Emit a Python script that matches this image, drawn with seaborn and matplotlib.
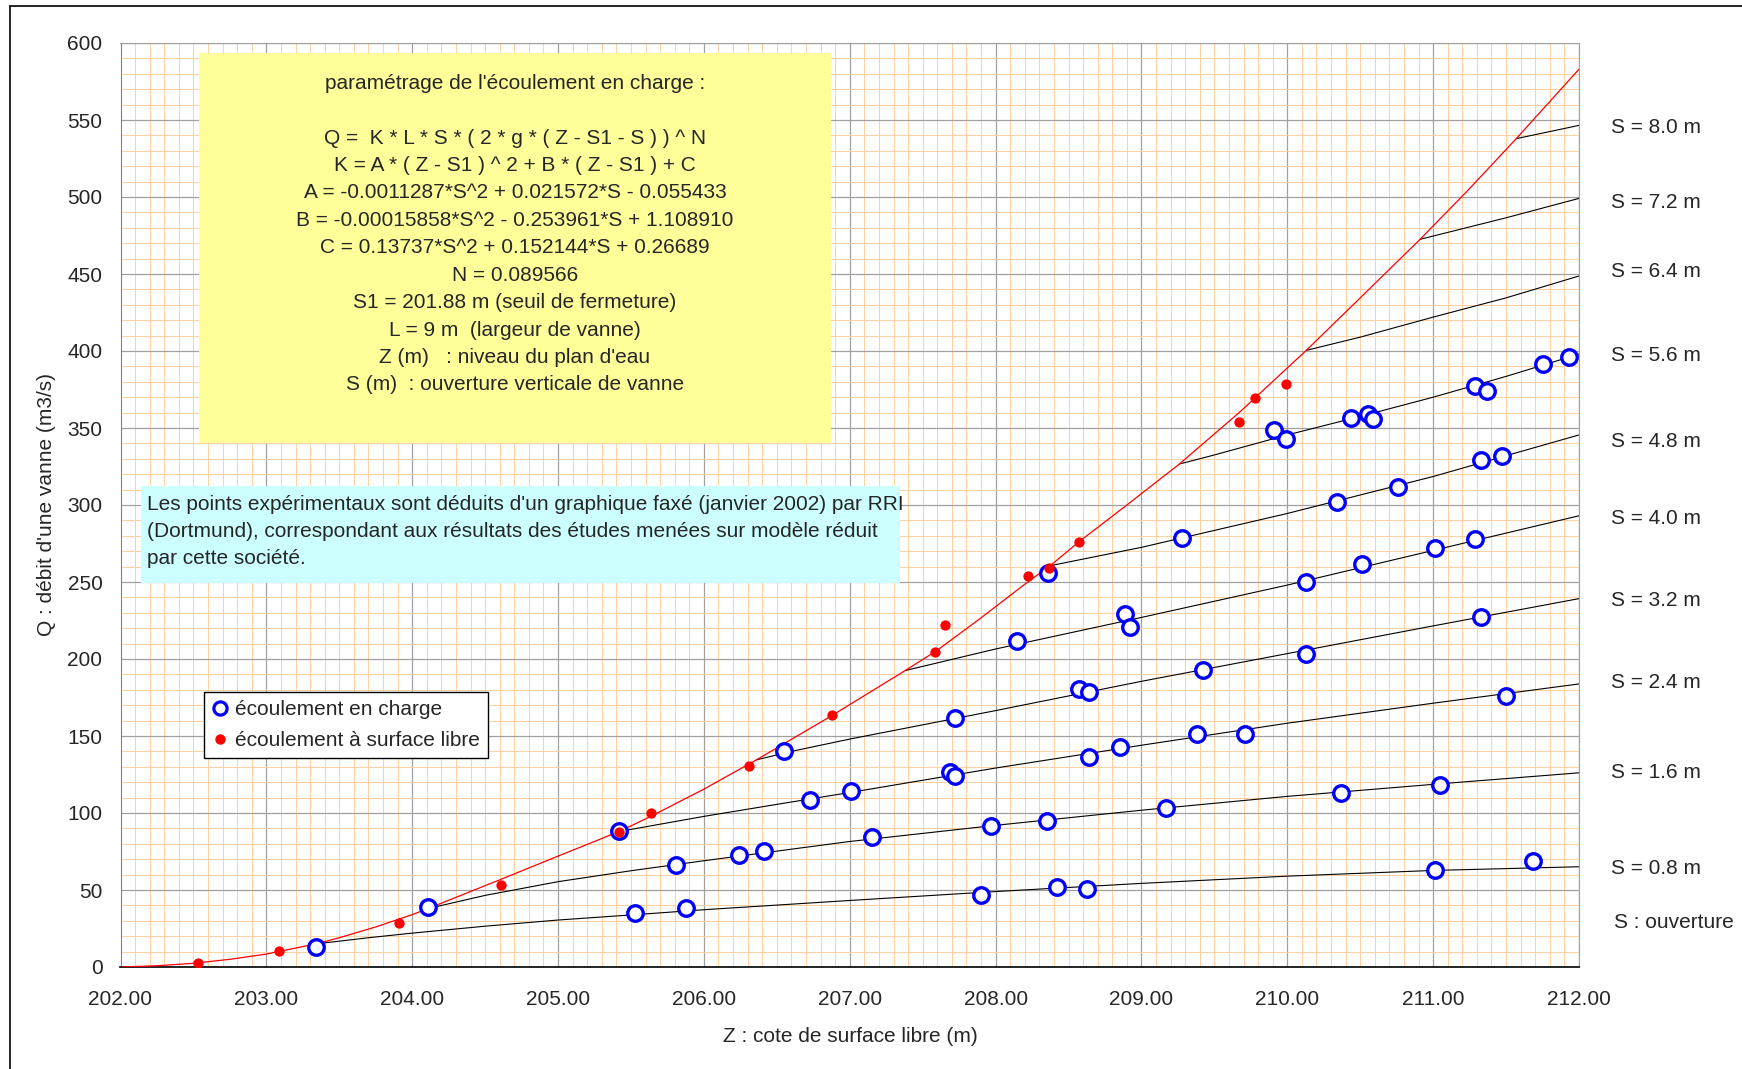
import numpy as np
import pandas as pd
import seaborn as sns
import matplotlib.pyplot as plt
from matplotlib.lines import Line2D
from matplotlib.patches import Rectangle
from matplotlib.ticker import FormatStrFormatter

# Free-surface limit curve (red line)
curve_z = [202.00, 202.25, 202.50, 202.75, 203.00, 203.34, 203.50, 203.75, 204.00, 204.11,
           204.61, 205.00, 205.42, 205.64, 206.00, 206.36, 206.88, 207.38, 207.59, 207.89,
           208.22, 208.38, 208.57, 208.90, 209.26, 209.67, 210.00, 210.13, 210.50, 210.91,
           211.23, 211.57, 212.00]
curve_q = [0.0, 0.8, 2.4, 5.0, 8.4, 15.0, 19.0, 26.0, 34.0, 38.0,
           57.0, 72.0, 88.0, 98.0, 115.5, 134.5, 163.4, 192.5, 205.0, 226.0,
           250.0, 261.0, 276.0, 300.0, 326.6, 360.0, 389.0, 400.4, 434.5, 472.5,
           503.5, 537.9, 583.0]

# Pressure-flow lines, one per gate opening S
s08_z = [203.34, 203.7, 204.0, 204.5, 205.0, 205.53, 206.0, 207.0, 208.0, 209.0, 210.0, 211.0, 212.0]
s08_q = [15.0, 19.0, 22.0, 26.5, 30.5, 34.0, 37.2, 43.2, 49.0, 54.3, 59.0, 62.7, 65.1]
s16_z = [204.11, 204.5, 205.0, 205.5, 206.0, 207.0, 208.0, 209.0, 210.0, 211.0, 212.0]
s16_q = [38.0, 46.5, 55.4, 62.5, 69.0, 81.5, 92.0, 101.8, 110.8, 118.6, 126.1]
s24_z = [205.42, 206.0, 206.5, 207.0, 208.0, 209.0, 210.0, 211.0, 212.0]
s24_q = [88.0, 97.8, 105.6, 113.3, 129.2, 144.0, 158.3, 171.3, 183.8]
s32_z = [206.36, 206.6, 207.0, 208.0, 209.0, 210.0, 211.0, 212.0]
s32_q = [134.5, 140.0, 148.0, 166.5, 185.5, 203.5, 221.5, 239.2]
s40_z = [207.38, 208.0, 209.0, 210.0, 211.0, 212.0]
s40_q = [192.5, 206.5, 227.0, 248.0, 270.5, 293.0]
s48_z = [208.37, 209.0, 210.0, 211.0, 212.0]
s48_q = [260.5, 272.5, 294.5, 318.5, 345.5]
s56_z = [209.26, 209.5, 210.0, 210.5, 211.0, 211.5, 212.0]
s56_q = [326.6, 332.5, 345.5, 357.5, 370.0, 383.5, 398.0]
s64_z = [210.13, 210.5, 211.0, 211.5, 212.0]
s64_q = [400.4, 409.0, 422.0, 434.5, 448.7]
s72_z = [210.91, 211.5, 212.0]
s72_q = [472.5, 486.5, 499.1]
s80_z = [211.57, 212.0]
s80_q = [537.9, 546.5]

openings = [0.8, 1.6, 2.4, 3.2, 4.0, 4.8, 5.6, 6.4, 7.2, 8.0]
lines_z = [s08_z, s16_z, s24_z, s32_z, s40_z, s48_z, s56_z, s64_z, s72_z, s80_z]
lines_q = [s08_q, s16_q, s24_q, s32_q, s40_q, s48_q, s56_q, s64_q, s72_q, s80_q]

# Experimental points: pressure flow (blue circles)
charge_z = [203.34, 205.53, 205.88, 207.90, 208.42, 208.63, 211.01, 211.685,
            204.11, 205.81, 206.24, 206.41, 207.15, 207.97, 208.355, 209.17, 210.37, 211.05,
            205.42, 206.73, 207.01, 207.685, 207.72, 208.64, 208.85, 209.38, 209.71, 211.50,
            206.55, 207.72, 208.57, 208.64, 209.42, 210.13, 211.33,
            208.15, 208.89, 208.92, 210.125, 210.51, 211.01, 211.29,
            208.36, 209.28, 210.34, 210.76, 211.33, 211.47,
            209.91, 209.99, 210.44, 210.55, 210.59, 211.29, 211.37, 211.75, 211.93]
charge_q = [13.3, 34.8, 38.4, 46.8, 52.1, 50.4, 62.7, 68.7,
            39.2, 66.0, 72.5, 75.4, 84.3, 91.6, 94.6, 103.3, 113.3, 118.5,
            88.0, 108.4, 114.5, 126.8, 124.0, 136.5, 143.0, 151.6, 151.6, 176.2,
            140.3, 161.7, 180.6, 178.3, 192.8, 203.1, 227.4,
            211.9, 229.4, 220.5, 250.2, 261.8, 272.4, 277.8,
            255.6, 278.4, 301.7, 311.9, 329.4, 332.0,
            348.7, 342.9, 356.7, 359.1, 355.8, 377.3, 374.0, 391.6, 396.3]

# Experimental points: free-surface flow (red dots)
libre_z = [202.53, 203.09, 203.91, 204.61, 205.42, 205.64, 206.31, 206.88, 207.585, 207.655,
           208.22, 208.365, 208.57, 209.67, 209.78, 209.99]
libre_q = [2.8, 10.6, 28.8, 53.0, 87.5, 100.2, 130.5, 163.4, 204.7, 222.0,
           254.0, 259.3, 275.8, 354.1, 369.7, 378.4]

# Labels on the right
s_labels = ['S = 8.0 m', 'S = 7.2 m', 'S = 6.4 m', 'S = 5.6 m', 'S = 4.8 m',
            'S = 4.0 m', 'S = 3.2 m', 'S = 2.4 m', 'S = 1.6 m', 'S = 0.8 m']
s_label_q = [545.0, 496.5, 451.5, 397.0, 341.5, 291.5, 238.2, 185.0, 126.0, 64.2]

box_lines = [
    "Q =  K * L * S * ( 2 * g * ( Z - S1 - S ) ) ^ N",
    "K = A * ( Z - S1 ) ^ 2 + B * ( Z - S1 ) + C",
    "A = -0.0011287*S^2 + 0.021572*S - 0.055433",
    "B = -0.00015858*S^2 - 0.253961*S + 1.108910",
    "C = 0.13737*S^2 + 0.152144*S + 0.26689",
    "N = 0.089566",
    "S1 = 201.88 m (seuil de fermeture)",
    "L = 9 m  (largeur de vanne)",
    "Z (m)   : niveau du plan d'eau",
    "S (m)  : ouverture verticale de vanne",
]
note_lines = [
    "Les points expérimentaux sont déduits d'un graphique faxé (janvier 2002) par RRI",
    "(Dortmund), correspondant aux résultats des études menées sur modèle réduit",
    "par cette société.",
]

df_lines = pd.concat(
    [pd.DataFrame({'Z': z, 'Q': q, 'S': s}) for z, q, s in zip(lines_z, lines_q, openings)],
    ignore_index=True)

sns.set_style('white')
plt.rcParams['font.family'] = ['Liberation Sans', 'DejaVu Sans']
plt.rcParams['font.size'] = 15

W, H = 1742, 1069
fig = plt.figure(figsize=(W / 100, H / 100), dpi=100)
ax = fig.add_axes([120.5 / W, 1 - 967 / H, 1458.5 / W, 924 / H])

# Grid
ax.set_xlim(202, 212)
ax.set_ylim(0, 600)
ax.set_xticks(np.arange(202, 212.01, 1))
ax.set_xticks(np.arange(202, 212.01, 0.1), minor=True)
ax.set_yticks(np.arange(0, 601, 50))
ax.set_yticks(np.arange(0, 601, 10), minor=True)
ax.grid(which='minor', color='#FFD0A0', linewidth=0.7)
ax.grid(which='major', color='#A0A0A0', linewidth=0.9)
ax.set_axisbelow(True)
ax.xaxis.set_major_formatter(FormatStrFormatter('%.2f'))
ax.tick_params(which='minor', length=0)
ax.tick_params(axis='x', which='major', direction='out', length=5, width=1, color='black',
               pad=11.5, labelsize=15)
ax.tick_params(axis='y', which='major', direction='out', length=5, width=1, color='#808080',
               pad=8, labelsize=15)
for side in ['top', 'right']:
    ax.spines[side].set_color('#A0A0A0')
ax.spines['left'].set_color('#808080')
ax.spines['bottom'].set_color('black')
ax.spines['bottom'].set_linewidth(1.2)

# Curves
sns.lineplot(data=df_lines, x='Z', y='Q', units='S', estimator=None, sort=False,
             color='black', linewidth=0.8, ax=ax, zorder=2)
sns.lineplot(x=curve_z, y=curve_q, sort=False, color='#FF0000', linewidth=0.9, ax=ax, zorder=3)
sns.scatterplot(x=charge_z, y=charge_q, marker='o', s=125, facecolor='white',
                edgecolor='#0000FF', linewidth=2.4, ax=ax, zorder=4)
sns.scatterplot(x=libre_z, y=libre_q, marker='o', s=55, color='#FF0000',
                linewidth=0, ax=ax, zorder=5)
ax.set_xlabel('')
ax.set_ylabel('')

for lab, q in zip(s_labels, s_label_q):
    ax.text(212.22, q, lab, fontsize=15, va='center', ha='left', clip_on=False)
ax.text(212.24, 29.0, 'S : ouverture', fontsize=15, va='center', ha='left', clip_on=False)

# Axis titles
fig.text(850 / W, 1 - 1036 / H, 'Z : cote de surface libre (m)', fontsize=15,
         ha='center', va='center')
fig.text(47 / W, 1 - 505 / H, "Q : débit d'une vanne (m3/s)", fontsize=15,
         ha='center', va='center', rotation=90)

# Yellow parameter box
fig.patches.append(Rectangle((199 / W, 1 - 443 / H), 632 / W, 390 / H,
                             transform=fig.transFigure, facecolor='#FFFF99',
                             edgecolor='none', zorder=1))
fig.text(515 / W, 1 - 89 / H, "paramétrage de l'écoulement en charge :", fontsize=15,
         ha='center', va='baseline', zorder=2)
for i, line in enumerate(box_lines):
    fig.text(515 / W, 1 - (143.7 + 27.4 * i) / H, line, fontsize=15,
             ha='center', va='baseline', zorder=2)

# Cyan note box
fig.patches.append(Rectangle((141 / W, 1 - 583 / H), 759 / W, 97 / H,
                             transform=fig.transFigure, facecolor='#CCFFFF',
                             edgecolor='none', zorder=1))
for i, line in enumerate(note_lines):
    fig.text(146.6 / W, 1 - (509.5 + 27.5 * i) / H, line, fontsize=15,
             ha='left', va='baseline', zorder=2)

# Legend
handles = [
    Line2D([], [], ls='', marker='o', ms=9.5, mfc='white', mec='#0000FF', mew=2.3),
    Line2D([], [], ls='', marker='o', ms=7.5, mfc='#FF0000', mec='#FF0000', mew=0),
]
leg = ax.legend(handles, ['écoulement en charge', 'écoulement à surface libre'],
                loc='upper left', bbox_to_anchor=(204 / W, 1 - 692 / H),
                bbox_transform=fig.transFigure, borderaxespad=0, fontsize=15,
                frameon=True, fancybox=False, framealpha=1, edgecolor='black',
                borderpad=0.38, labelspacing=0.58, handlelength=0.8, handletextpad=0.3)
leg.get_frame().set_linewidth(1.0)
leg.set_zorder(6)

# Outer chart border (left and top)
fig.add_artist(Line2D([10 / W, 10 / W], [0, 1 - 6 / H], transform=fig.transFigure,
                      color='black', linewidth=1.2))
fig.add_artist(Line2D([10 / W, 1], [1 - 6 / H, 1 - 6 / H], transform=fig.transFigure,
                      color='black', linewidth=1.2))

fig.savefig('out.png', dpi=100)
